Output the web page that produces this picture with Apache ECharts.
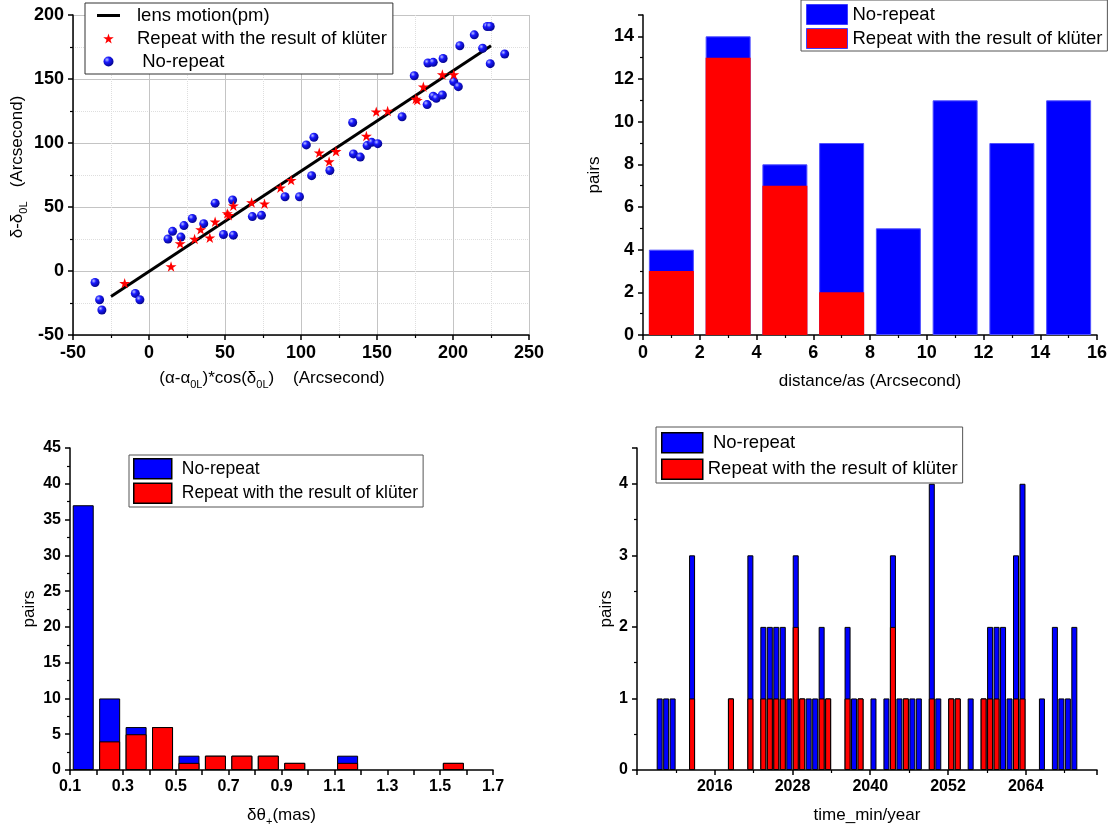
<!DOCTYPE html>
<html><head><meta charset="utf-8">
<script src="https://cdn.jsdelivr.net/npm/echarts@6/dist/echarts.min.js"></script>
<style>html,body{margin:0;padding:0;background:#fff}#c{width:1120px;height:833px}</style>
</head><body><div id="c"></div>
<script>
// ---------- data ----------
// top-left: positions (Arcsecond)
const lensX = [-25, 225];
const lensY = [-20, 176];
const repeatX = [-16, 14.5, 20.5, 30, 34, 40, 43.5, 51.5, 52.5, 55.5, 67.5, 76, 86.5, 93.5, 112, 118.5, 123, 143, 149.5, 157, 175.5, 176.5, 180.5, 193, 200.5];
const repeatY = [-9.5, 3.5, 21.5, 25, 32.5, 26, 38.5, 45, 43.5, 51, 53.5, 52.5, 65, 71, 92.5, 85.5, 93.5, 105.5, 124.5, 125, 134.5, 133.5, 144, 153.5, 153.5];
const noRepeatX = [-35.5, -32.5, -31, -9, -6, 12.5, 15.5, 21, 23, 28.5, 36, 43.5, 49, 55, 55.5, 68, 74, 89.5, 99, 103.5, 107, 108.5, 119, 134.5, 134, 139, 143.5, 146.5, 150.5, 166.5, 174.5, 183, 183.5, 187, 187, 189, 193, 193.5, 200.5, 203.5, 204.5, 214, 219.5, 222.5, 224.5, 224.5, 234];
const noRepeatY = [-9, -22.5, -30.5, -17.5, -22.5, 25, 31, 26.5, 35.5, 41, 37, 53, 28.5, 55.5, 28, 42.5, 43.5, 58, 58, 98.5, 74.5, 104.5, 78.5, 91.5, 116, 89, 98, 100.5, 99.5, 120.5, 152.5, 130, 162.5, 136.5, 163, 135, 137.5, 166, 148, 144, 176, 184.5, 174, 191, 191, 162, 169.5];

// top-right: distance histogram (bin start, width 2)
const distBinStart = [0, 2, 4, 6, 8, 10, 12, 14];
const distNoRepeat = [4, 14, 8, 9, 5, 11, 9, 11];
const distRepeat   = [3, 13, 7, 2, 0, 0, 0, 0];

// bottom-left: delta theta histogram (bin start, width 0.1)
const thetaBinStart = [0.1, 0.2, 0.3, 0.4, 0.5, 0.6, 0.7, 0.8, 0.9, 1.0, 1.1, 1.2, 1.3, 1.4, 1.5];
const thetaNoRepeat = [37, 10, 6, 6, 2, 2, 2, 2, 1, 0, 2, 0, 0, 0, 1];
const thetaRepeat   = [0, 4, 5, 6, 1, 2, 2, 2, 1, 0, 1, 0, 0, 0, 1];

// bottom-right: time histogram (year bin start, width 1)
const timeYears = [2007, 2008, 2009, 2012, 2018, 2021, 2023, 2024, 2025, 2026, 2027, 2028, 2029, 2030, 2031, 2032, 2033, 2036, 2037, 2038, 2040, 2042, 2043, 2044, 2045, 2046, 2047, 2049, 2050, 2052, 2053, 2055, 2057, 2058, 2059, 2060, 2061, 2062, 2063, 2066, 2068, 2069, 2070, 2071];
const timeNoRepeat = [1, 1, 1, 3, 1, 3, 2, 2, 2, 2, 1, 3, 1, 1, 1, 2, 1, 2, 1, 1, 1, 1, 3, 1, 1, 1, 1, 4, 1, 1, 1, 1, 1, 2, 2, 2, 1, 3, 4, 1, 2, 1, 1, 2];
const timeRepeat   = [0, 0, 0, 1, 1, 1, 1, 1, 1, 1, 0, 2, 1, 0, 0, 1, 1, 1, 0, 1, 0, 0, 2, 0, 1, 0, 0, 1, 0, 1, 1, 0, 1, 1, 1, 0, 0, 1, 1, 0, 0, 0, 0, 0];

// tick label values
const timeLabels = [2016, 2028, 2040, 2052, 2064];

// ---------- helpers ----------
const FONT = '"Liberation Sans", Arial, sans-serif';
const NR = 'No-repeat';
const RP = 'Repeat with the result of klüter';
const pairs = (xs, ys) => xs.map((x, i) => [x, ys[i]]);
const bins = (starts, vals, w) => starts.map((s, i) => [+(s + w / 2).toFixed(4), vals[i]]).filter(d => d[1] > 0);
const STAR = 'path://M50,0 L61,35 L98,35 L68,57 L79,91 L50,70 L21,91 L32,57 L2,35 L39,35 Z';
const LINE_ICON = 'path://M0,0 L100,0 L100,13 L0,13 Z';
const ball = {type: 'radial', x: 0.35, y: 0.32, r: 0.75, colorStops: [
  {offset: 0, color: '#b8c0ff'}, {offset: 0.35, color: '#1a1aff'}, {offset: 1, color: '#000080'}]};

function axis(o, fs) {
  const base = {
    nameLocation: 'middle',
    axisLine: {show: true, onZero: false, lineStyle: {color: '#000', width: 1.5}},
    axisTick: {show: true, inside: false, length: 5, lineStyle: {color: '#000', width: 1.5}},
    minorTick: {show: true, splitNumber: 2, length: 3, lineStyle: {color: '#000', width: 1.2}},
    axisLabel: {color: '#000', fontWeight: 'bold', fontSize: fs, fontFamily: FONT, margin: 9},
    splitLine: {show: false},
    nameTextStyle: {color: '#000', fontSize: 17, fontFamily: FONT}
  };
  for (const k in o) {
    if (base[k] && typeof base[k] === 'object' && typeof o[k] === 'object' && !Array.isArray(o[k])) base[k] = Object.assign({}, base[k], o[k]);
    else base[k] = o[k];
  }
  return base;
}
const richName = {
  a: {fontSize: 17, fontFamily: FONT, color: '#000', verticalAlign: 'top', padding: [0, 0, 5, 0]},
  s: {fontSize: 11, fontFamily: FONT, color: '#000', verticalAlign: 'top', padding: [9, 0, 0, 0]}
};

const chart = echarts.init(document.getElementById('c'), null, {renderer: 'canvas'});
const lt = fs => ({fontSize: fs, fontFamily: FONT, color: '#000'});

chart.setOption({
  animation: false,
  backgroundColor: '#fff',
  grid: [
    {left: 73, top: 15, width: 456, height: 320, outerBoundsMode: 'none'},
    {left: 643, top: 15, width: 454, height: 320, outerBoundsMode: 'none'},
    {left: 70, top: 448, width: 423, height: 322, outerBoundsMode: 'none'},
    {left: 637, top: 448, width: 460, height: 322, outerBoundsMode: 'none'}
  ],
  xAxis: [
    axis({gridIndex: 0, type: 'value', min: -50, max: 250, interval: 50,
      name: '{a|(α-α}{s|0L}{a|)*cos(δ}{s|0L}{a|)    (Arcsecond)}', nameGap: 35,
      nameTextStyle: {rich: richName, padding: [0, 58, 0, 0]},
      splitLine: {show: true, lineStyle: {color: '#c4c4c4', width: 1}},
      minorSplitLine: {show: true, lineStyle: {color: '#dedede', width: 1, type: 'dotted'}}}, 18),
    axis({gridIndex: 1, type: 'value', min: 0, max: 16, interval: 2,
      name: 'distance/as (Arcsecond)', nameGap: 38}, 18),
    axis({gridIndex: 2, type: 'value', min: 0.1, max: 1.7, interval: 0.1,
      name: '{a|δθ}{s|+}{a|(mas)}', nameGap: 37, nameTextStyle: {rich: richName},
      minorTick: {show: false},
      axisLabel: {formatter: v => (Math.round(v * 10) % 2 === 1 ? v.toFixed(1) : '')}}, 16),
    axis({gridIndex: 3, type: 'value', min: 2004, max: 2075, interval: 12,
      name: 'time_min/year', nameGap: 37,
      axisLabel: {showMinLabel: false, showMaxLabel: false,
        formatter: v => (timeLabels.indexOf(v) >= 0 ? String(v) : '')}}, 16)
  ],
  yAxis: [
    axis({gridIndex: 0, type: 'value', min: -50, max: 200, interval: 50,
      name: '{a|δ-δ}{s|0L}{a|   (Arcsecond)}', nameGap: 42, nameRotate: 90,
      nameTextStyle: {rich: richName, padding: [0, 0, 0, 16]},
      splitLine: {show: true, lineStyle: {color: '#c4c4c4', width: 1}},
      minorSplitLine: {show: true, lineStyle: {color: '#dedede', width: 1, type: 'dotted'}}}, 18),
    axis({gridIndex: 1, type: 'value', min: 0, max: 15, interval: 2, name: 'pairs', nameGap: 40,
      axisLabel: {showMaxLabel: false}}, 18),
    axis({gridIndex: 2, type: 'value', min: 0, max: 45, interval: 5, name: 'pairs', nameGap: 32}, 16),
    axis({gridIndex: 3, type: 'value', min: 0, max: 4.5, interval: 1, name: 'pairs', nameGap: 17,
      axisLabel: {showMaxLabel: false}}, 16)
  ],
  legend: [
    {left: 85, top: 3, orient: 'vertical', itemWidth: 23, itemHeight: 10, itemGap: 4,
      padding: [3, 6, 3, 12], borderColor: '#333', borderWidth: 1, backgroundColor: '#fff',
      symbolKeepAspect: true,
      textStyle: Object.assign({padding: [0, 0, 0, 12]}, lt(18.5)),
      formatter: n => (n === NR ? ' ' + n : n),
      data: [{name: 'lens motion(pm)', icon: LINE_ICON, itemStyle: {color: '#000'}}, RP, NR]},
    {left: 801, top: 0, orient: 'vertical', itemWidth: 41, itemHeight: 20, itemGap: 3,
      padding: [4, 5, 2, 5], borderColor: '#555', borderWidth: 1, backgroundColor: '#fff',
      textStyle: lt(18.5),
      data: [
        {name: NR, icon: 'rect', itemStyle: {color: '#0000ff', borderColor: '#4040ff', borderWidth: 1}},
        {name: RP, icon: 'rect', itemStyle: {color: '#ff0000', borderColor: '#4040ff', borderWidth: 1}}]},
    {left: 129, top: 455, orient: 'vertical', itemWidth: 38, itemHeight: 20, itemGap: 3,
      padding: [3, 5, 3, 4], borderColor: '#555', borderWidth: 1, backgroundColor: '#fff',
      textStyle: Object.assign({padding: [0, 0, 0, 5]}, lt(17.5)),
      data: [
        {name: NR, icon: 'rect', itemStyle: {color: '#0000ff', borderColor: '#000', borderWidth: 1.5}},
        {name: RP, icon: 'rect', itemStyle: {color: '#ff0000', borderColor: '#000', borderWidth: 1.5}}]},
    {left: 656, top: 427, orient: 'vertical', itemWidth: 41, itemHeight: 20, itemGap: 5,
      padding: [5, 5, 3, 5], borderColor: '#555', borderWidth: 1, backgroundColor: '#fff',
      textStyle: lt(18.5),
      formatter: n => (n === NR ? ' ' + n : n),
      data: [
        {name: NR, icon: 'rect', itemStyle: {color: '#0000ff', borderColor: '#000', borderWidth: 1.5}},
        {name: RP, icon: 'rect', itemStyle: {color: '#ff0000', borderColor: '#000', borderWidth: 1.5}}]}
  ],
  series: [
    {name: 'lens motion(pm)', type: 'line', xAxisIndex: 0, yAxisIndex: 0, data: pairs(lensX, lensY),
      symbol: 'none', lineStyle: {color: '#000', width: 3}, itemStyle: {color: '#000'}, z: 2},
    {name: NR, type: 'scatter', xAxisIndex: 0, yAxisIndex: 0, data: pairs(noRepeatX, noRepeatY),
      symbol: 'circle', symbolSize: 9, itemStyle: {color: ball, opacity: 1}, z: 3},
    {name: RP, type: 'scatter', xAxisIndex: 0, yAxisIndex: 0, data: pairs(repeatX, repeatY),
      symbol: STAR, symbolSize: 11, symbolKeepAspect: true, itemStyle: {color: '#ff0000', opacity: 1}, z: 4},

    {name: NR, type: 'bar', xAxisIndex: 1, yAxisIndex: 1, data: bins(distBinStart, distNoRepeat, 2),
      barWidth: 45, barGap: '-100%', itemStyle: {color: '#0000ff', borderColor: '#5050ff', borderWidth: 1}},
    {name: RP, type: 'bar', xAxisIndex: 1, yAxisIndex: 1, data: bins(distBinStart, distRepeat, 2),
      barWidth: 45, barGap: '-100%', itemStyle: {color: '#ff0000', borderWidth: 0}},

    {name: NR, type: 'bar', xAxisIndex: 2, yAxisIndex: 2, data: bins(thetaBinStart, thetaNoRepeat, 0.1),
      barWidth: 21, barGap: '-100%', itemStyle: {color: '#0000ff', borderColor: '#000', borderWidth: 1}},
    {name: RP, type: 'bar', xAxisIndex: 2, yAxisIndex: 2, data: bins(thetaBinStart, thetaRepeat, 0.1),
      barWidth: 21, barGap: '-100%', itemStyle: {color: '#ff0000', borderColor: '#000', borderWidth: 1}},

    {name: NR, type: 'bar', xAxisIndex: 3, yAxisIndex: 3, data: bins(timeYears, timeNoRepeat, 1),
      barWidth: 6, barGap: '-100%', itemStyle: {color: '#0000ff', borderColor: '#000', borderWidth: 1}},
    {name: RP, type: 'bar', xAxisIndex: 3, yAxisIndex: 3, data: bins(timeYears, timeRepeat, 1),
      barWidth: 6, barGap: '-100%', itemStyle: {color: '#ff0000', borderColor: '#000', borderWidth: 1}}
  ]
});
</script></body></html>
